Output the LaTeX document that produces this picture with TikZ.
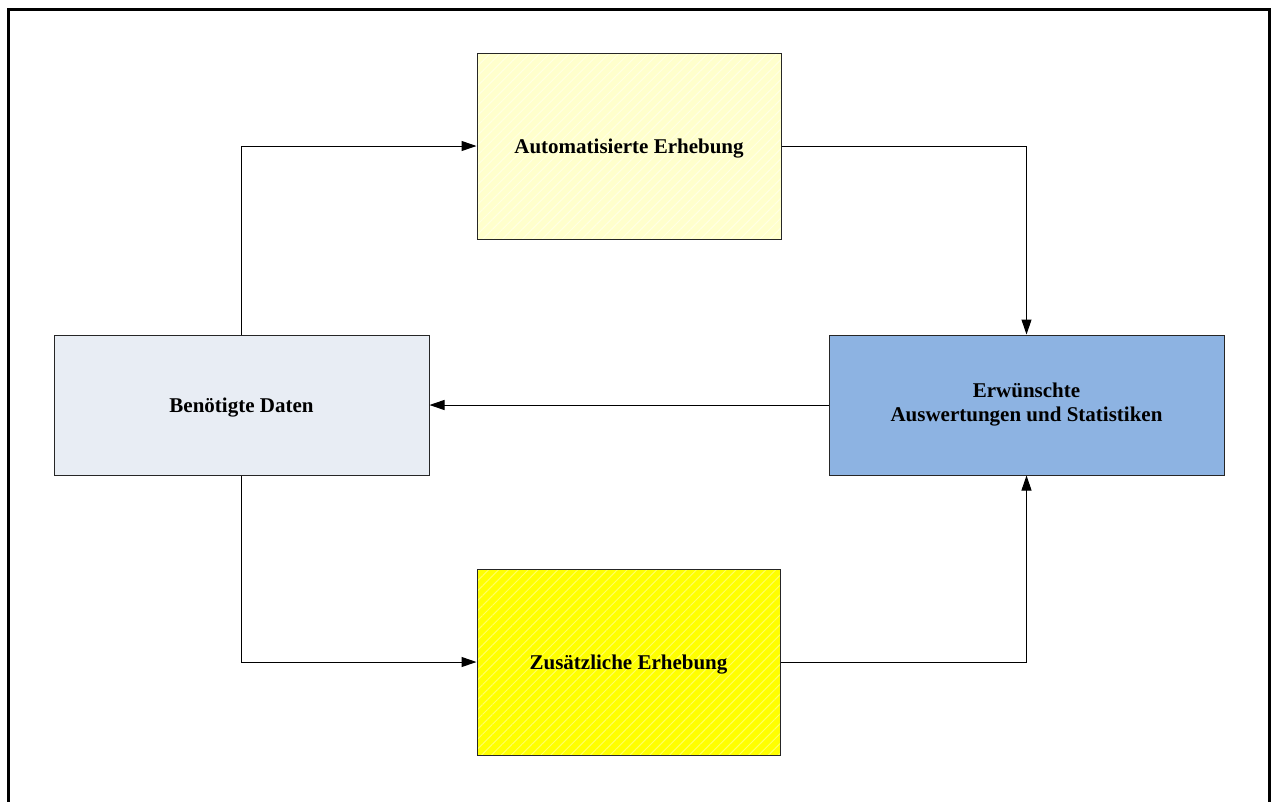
\documentclass[tikz,border=0pt]{standalone}
\usepackage{fontspec}
\setmainfont{Liberation Serif}
\usetikzlibrary{arrows.meta,patterns.meta}

\definecolor{paleblue}{HTML}{E8EDF4}
\definecolor{midblue}{HTML}{8DB3E2}
\definecolor{paleyellow}{HTML}{FFFFCC}
\definecolor{paleyellowline}{HTML}{FFFFE4}
\definecolor{brightyellow}{HTML}{FFFF00}
\definecolor{brightyellowline}{HTML}{FFFF60}

\tikzset{
  box/.style={draw=black!85, line width=1pt, rectangle, align=center,
    font=\bfseries\fontsize{21}{24}\selectfont, inner sep=0pt},
  oneline/.style={text height=14pt, text depth=0pt},
  hatched/.style 2 args={preaction={fill=#1},
    pattern={Lines[angle=45,distance=7pt,line width=1pt]}, pattern color=#2},
  flow/.style={draw=black, line width=1pt, -{Triangle[length=15pt,width=10pt]}}
}

\begin{document}
\begin{tikzpicture}[x=1pt,y=-1pt]
  \useasboundingbox (0,0) rectangle (1273,801);

  % outer frame, open at the bottom
  \draw[line width=3pt, line join=miter] (8,805) -- (8,9) -- (1269.5,9) -- (1269.5,805);

  % boxes
  \node[box, oneline, hatched={paleyellow}{paleyellowline},
        minimum width=304pt, minimum height=186pt] (auto) at (629,146) {Automatisierte Erhebung};
  \node[box, oneline, hatched={brightyellow}{brightyellowline},
        minimum width=303pt, minimum height=186pt] (zus) at (628.5,662) {Zusätzliche Erhebung};
  \node[box, oneline, fill=paleblue,
        minimum width=375pt, minimum height=140pt] (ben) at (241.5,405) {Benötigte Daten};
  \node[box, fill=midblue,
        minimum width=395pt, minimum height=140pt] (erw) at (1026.5,405) {\raisebox{-2pt}{Erwünschte}\\\raisebox{-2pt}{Auswertungen und Statistiken}};

  % connectors
  \draw[flow] (ben.north) |- (auto.west);
  \draw[flow] (auto.east) -| (erw.north);
  \draw[flow] (erw.west) -- (ben.east);
  \draw[flow] (ben.south) |- (zus.west);
  \draw[flow] (zus.east) -| (erw.south);
\end{tikzpicture}
\end{document}
